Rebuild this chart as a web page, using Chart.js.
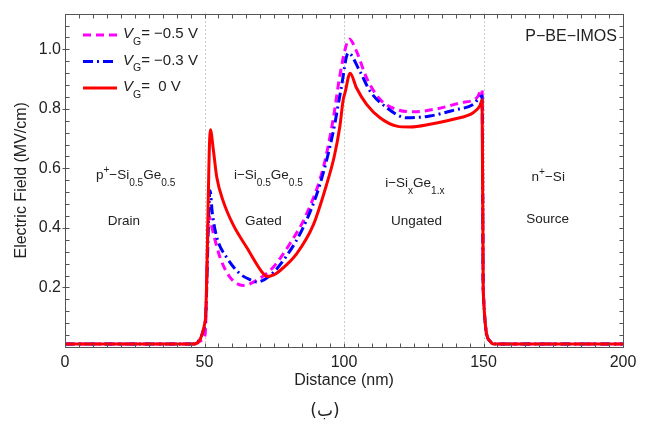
<!DOCTYPE html>
<html>
<head>
<meta charset="utf-8">
<script src="https://cdn.jsdelivr.net/npm/chart.js@4.4.0/dist/chart.umd.min.js"></script>
<style>
  html, body { margin: 0; padding: 0; background: #fff; }
  #wrap { position: relative; width: 651px; height: 426px; }
</style>
</head>
<body>
<div id="wrap"><canvas id="field-chart"></canvas></div>
<script>
// field profiles: distance in nm, field in MV/cm
const distM  = [0, 46.5, 48.5, 49.8, 50.3, 51.5, 53.2, 55.6, 59.1, 63.9, 68.7, 74.7, 80.6, 86.6, 92.6, 96.2, 98.3, 100.4, 101.9, 104.5, 108.1, 112.9, 118.9, 124.8, 133.2, 141.6, 147.6, 149.5, 149.9, 152.3, 153.5, 200];
const fieldM = [0.01, 0.01, 0.02, 0.03, 0.05, 0.44, 0.38, 0.30, 0.235, 0.207, 0.224, 0.269, 0.347, 0.447, 0.603, 0.77, 0.90, 1.0, 1.035, 0.993, 0.904, 0.832, 0.798, 0.79, 0.80, 0.82, 0.837, 0.865, 0.19, 0.02, 0.01, 0.01];

const distB  = [0, 46.3, 48.5, 49.6, 50.4, 52.0, 52.8, 54.4, 58, 62.7, 66.9, 68.7, 73.5, 79.5, 85.4, 91.4, 96.2, 99, 101.5, 105.7, 109.3, 115.3, 122.5, 130.8, 139.2, 146.3, 149.5, 149.9, 152.3, 153.5, 200];
const fieldB = [0.01, 0.01, 0.03, 0.057, 0.1, 0.525, 0.45, 0.369, 0.30, 0.246, 0.224, 0.218, 0.24, 0.307, 0.402, 0.547, 0.726, 0.87, 0.988, 0.926, 0.86, 0.804, 0.77, 0.776, 0.795, 0.815, 0.843, 0.19, 0.02, 0.01, 0.01];

const distR  = [0, 45.8, 50.3, 52.1, 53.2, 54.4, 56.7, 60.3, 65.1, 71.1, 72.5, 75, 77.1, 83, 89, 93.8, 96.5, 98.5, 99.7, 100.4, 102.2, 104.5, 108.1, 112.9, 118.9, 123.7, 130.8, 139.2, 146.3, 148.7, 149.5, 149.9, 152.3, 153.5, 200];
const fieldR = [0.01, 0.01, 0.09, 0.73, 0.66, 0.57, 0.49, 0.41, 0.335, 0.246, 0.237, 0.243, 0.257, 0.313, 0.41, 0.547, 0.64, 0.74, 0.83, 0.855, 0.92, 0.87, 0.815, 0.77, 0.742, 0.739, 0.748, 0.765, 0.787, 0.81, 0.83, 0.19, 0.02, 0.01, 0.01];

const gateVoltages = ['\u22120.5', '\u22120.3', ' 0'];
const xTickLabels = [0, 50, 100, 150, 200];
const yTickLabels = [0.2, 0.4, 0.6, 0.8, 1.0];
const regionBounds = [50, 100, 150];

const FONT = '"Liberation Sans", Arial, Helvetica, sans-serif';
const INK = '#222';

function pts(xs, ys) {
  return xs.map((x, i) => ({ x: x, y: ys[i] }));
}

// text with italic / subscript / superscript pieces
function drawRich(ctx, parts, x, y, o) {
  const size = o.size;
  const small = size * (o.subScale || 0.75);
  const fontOf = k => (k === 'i' ? 'italic ' : '') + (k === 'b' || k === 'p' ? small : size) + 'px ' + FONT;
  ctx.save();
  let w = 0;
  parts.forEach(p => { ctx.font = fontOf(p[1]); w += ctx.measureText(p[0]).width; });
  let cx = o.align === 'center' ? x - w / 2 : o.align === 'right' ? x - w : x;
  ctx.fillStyle = INK;
  ctx.textAlign = 'left';
  ctx.textBaseline = 'alphabetic';
  parts.forEach(p => {
    ctx.font = fontOf(p[1]);
    const dy = p[1] === 'b' ? size * (o.subDy || 0.5) : p[1] === 'p' ? -size * 0.45 : 0;
    ctx.fillText(p[0], cx, y + dy);
    cx += ctx.measureText(p[0]).width;
  });
  ctx.restore();
}

const framePlugin = {
  id: 'frame',
  beforeDatasetsDraw(chart) {
    const { ctx, chartArea: a, scales: { x } } = chart;
    ctx.save();
    ctx.strokeStyle = '#9a9a9a';
    ctx.lineWidth = 1;
    ctx.setLineDash([1, 3]);
    regionBounds.forEach(v => {
      const px = Math.round(x.getPixelForValue(v)) + 0.5;
      ctx.beginPath(); ctx.moveTo(px, a.top); ctx.lineTo(px, a.bottom); ctx.stroke();
    });
    ctx.restore();
  },
  afterDraw(chart) {
    const { ctx, chartArea: a, scales: { x, y } } = chart;
    ctx.save();
    ctx.strokeStyle = '#555';
    ctx.lineWidth = 1;
    const seg = (x1, y1, x2, y2) => { ctx.beginPath(); ctx.moveTo(x1, y1); ctx.lineTo(x2, y2); ctx.stroke(); };
    const L = Math.round(a.left) + 0.5, R = Math.round(a.right) + 0.5;
    const T = Math.round(a.top) + 0.5, B = Math.round(a.bottom) + 0.5;
    ctx.strokeRect(L, T, R - L, B - T);
    for (let i = 0; i <= 40; i++) {
      const px = Math.round(x.getPixelForValue(i * 5)) + 0.5;
      seg(px, B, px, B - 4);
      seg(px, T, px, T + 4);
    }
    for (let i = 0; i <= 28; i++) {
      const v = Math.round(i * 4) / 100;
      const py = Math.round(y.getPixelForValue(v)) + 0.5;
      const major = i % 5 === 0 && i > 0;
      seg(L - (major ? 3 : 0), py, L + 4, py);
      seg(R, py, R - 4, py);
    }
    ctx.restore();
  }
};

const legendPlugin = {
  id: 'vgLegend',
  afterDraw(chart) {
    const { ctx, chartArea: a } = chart;
    chart.data.datasets.forEach((ds, i) => {
      const ly = a.top + 21.5 + i * 26.5;
      ctx.save();
      ctx.strokeStyle = ds.borderColor;
      ctx.lineWidth = 3;
      ctx.setLineDash(ds.borderDash || []);
      ctx.beginPath(); ctx.moveTo(a.left + 18, ly); ctx.lineTo(a.left + 52, ly); ctx.stroke();
      ctx.restore();
      drawRich(ctx, [['V', 'i'], ['G', 'b'], ['= ' + gateVoltages[i] + ' V', '']],
        a.left + 58, ly + 3, { size: 15, subScale: 0.7, subDy: 0.45 });
    });
  }
};

const notesPlugin = {
  id: 'notes',
  afterDraw(chart) {
    const { ctx, scales: { x, y } } = chart;
    const at = (nm, v) => [x.getPixelForValue(nm), y.getPixelForValue(v)];
    const region = { size: 13.5, align: 'center', subScale: 0.75, subDy: 0.5 };
    let p;
    p = at(25.3, 0.565); drawRich(ctx, [['p', ''], ['+', 'p'], ['\u2212Si', ''], ['0.5', 'b'], ['Ge', ''], ['0.5', 'b']], p[0], p[1], region);
    p = at(72.9, 0.565); drawRich(ctx, [['i\u2212Si', ''], ['0.5', 'b'], ['Ge', ''], ['0.5', 'b']], p[0], p[1], region);
    p = at(125.4, 0.538); drawRich(ctx, [['i\u2212Si', ''], ['x', 'b'], ['Ge', ''], ['1.x', 'b']], p[0], p[1], region);
    p = at(173.2, 0.557); drawRich(ctx, [['n', ''], ['+', 'p'], ['\u2212Si', '']], p[0], p[1], region);
    p = at(21.1, 0.41); drawRich(ctx, [['Drain', '']], p[0], p[1], region);
    p = at(71.1, 0.41); drawRich(ctx, [['Gated', '']], p[0], p[1], region);
    p = at(126.0, 0.41); drawRich(ctx, [['Ungated', '']], p[0], p[1], region);
    p = at(173.0, 0.415); drawRich(ctx, [['Source', '']], p[0], p[1], region);
    p = at(197.8, 1.027); drawRich(ctx, [['P\u2212BE\u2212IMOS', '']], p[0], p[1], { size: 16, align: 'right' });

    // figure caption under the axis title
    ctx.save();
    ctx.fillStyle = INK;
    ctx.font = '17px "DejaVu Sans", sans-serif';
    ctx.textAlign = 'center';
    ctx.textBaseline = 'middle';
    ctx.fillText('(\u0628)', 325, 412);
    ctx.restore();
  }
};

const ctx = document.getElementById('field-chart').getContext('2d');

new Chart(ctx, {
  type: 'line',
  data: {
    datasets: [
      { label: 'VG= \u22120.5 V', data: pts(distM, fieldM), borderColor: '#ff00ff', borderWidth: 3, borderDash: [8, 5], order: 2 },
      { label: 'VG= \u22120.3 V', data: pts(distB, fieldB), borderColor: '#0000ff', borderWidth: 3, borderDash: [10, 4, 2, 4], order: 1 },
      { label: 'VG=  0 V', data: pts(distR, fieldR), borderColor: '#ff0000', borderWidth: 3, order: 0 }
    ]
  },
  options: {
    responsive: true,
    maintainAspectRatio: false,
    animation: false,
    layout: { padding: { left: 0, top: 12, right: 28, bottom: 35 } },
    elements: {
      point: { radius: 0 },
      line: { cubicInterpolationMode: 'monotone', fill: false }
    },
    plugins: { legend: { display: false }, tooltip: { enabled: false } },
    scales: {
      x: {
        type: 'linear',
        min: 0,
        max: 200,
        grid: { display: false, drawTicks: false },
        border: { display: false },
        afterBuildTicks: s => { s.ticks = xTickLabels.map(v => ({ value: v })); },
        afterFit: s => { s.height = 44; },
        ticks: { padding: 6, color: INK, maxRotation: 0, autoSkip: false, font: { family: FONT, size: 16 } },
        title: { display: true, text: 'Distance (nm)', color: INK, padding: { top: 0, bottom: 1 }, font: { family: FONT, size: 16 } }
      },
      y: {
        min: 0,
        max: 1.12,
        grid: { display: false, drawTicks: false },
        border: { display: false },
        afterBuildTicks: s => { s.ticks = yTickLabels.map(v => ({ value: v })); },
        afterFit: s => { s.width = 65; },
        ticks: { padding: 4, color: INK, autoSkip: false, font: { family: FONT, size: 16 }, callback: v => v.toFixed(1) },
        title: { display: true, text: 'Electric Field (MV/cm)', color: INK, padding: { top: 12, bottom: 0 }, font: { family: FONT, size: 16 } }
      }
    }
  },
  plugins: [framePlugin, legendPlugin, notesPlugin]
});
</script>
</body>
</html>
